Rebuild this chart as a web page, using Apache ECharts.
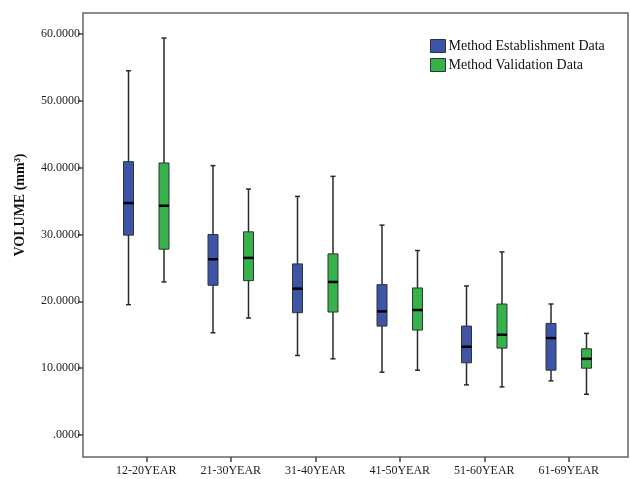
<!DOCTYPE html>
<html>
<head>
<meta charset="utf-8">
<script src="https://cdn.jsdelivr.net/npm/echarts@6/dist/echarts.min.js"></script>
<style>html,body{margin:0;padding:0;background:#fff;}#c{width:630px;height:479px;}</style>
</head>
<body>
<div id="c"></div>
<script>
const categories = ['12-20YEAR','21-30YEAR','31-40YEAR','41-50YEAR','51-60YEAR','61-69YEAR'];
const yTicks = [0, 10, 20, 30, 40, 50, 60];
// Method Establishment Data
const estMin = [19.5, 15.3, 11.9, 9.4, 7.5, 8.1];
const estQ1  = [29.9, 22.4, 18.3, 16.3, 10.8, 9.7];
const estMed = [34.7, 26.3, 21.9, 18.5, 13.2, 14.5];
const estQ3  = [40.9, 30.0, 25.6, 22.5, 16.3, 16.7];
const estMax = [54.5, 40.3, 35.7, 31.4, 22.3, 19.6];
// Method Validation Data
const valMin = [22.9, 17.5, 11.4, 9.7, 7.2, 6.1];
const valQ1  = [27.8, 23.1, 18.4, 15.7, 13.0, 10.0];
const valMed = [34.3, 26.5, 22.9, 18.7, 15.0, 11.4];
const valQ3  = [40.7, 30.4, 27.1, 22.0, 19.6, 12.9];
const valMax = [59.4, 36.8, 38.7, 27.6, 27.4, 15.2];

const BLUE = '#3c55a6';
const GREEN = '#36b24a';
const SERIF = '"Liberation Serif", "DejaVu Serif", serif';

function rows(mn, q1, md, q3, mx) {
  return categories.map((c, i) => [i, mn[i], q1[i], md[i], q3[i], mx[i]]);
}

function makeRender(offsetFrac, color) {
  return function (params, api) {
    const cat = api.value(0);
    const band = api.size([1, 0])[0];
    const cx = api.coord([cat, api.value(3)])[0] + offsetFrac * band;
    const yLow = api.coord([cat, api.value(1)])[1];
    const yQ1 = api.coord([cat, api.value(2)])[1];
    const yMed = api.coord([cat, api.value(3)])[1];
    const yQ3 = api.coord([cat, api.value(4)])[1];
    const yHigh = api.coord([cat, api.value(5)])[1];
    const bw = 10, cw = 5;
    const ws = { stroke: '#2a2a2a', lineWidth: 1.5 };
    return {
      type: 'group',
      children: [
        { type: 'line', shape: { x1: cx, y1: yHigh, x2: cx, y2: yLow }, style: ws },
        { type: 'line', shape: { x1: cx - cw / 2, y1: yHigh, x2: cx + cw / 2, y2: yHigh }, style: ws },
        { type: 'line', shape: { x1: cx - cw / 2, y1: yLow, x2: cx + cw / 2, y2: yLow }, style: ws },
        { type: 'rect', shape: { x: cx - bw / 2, y: yQ3, width: bw, height: yQ1 - yQ3 },
          style: { fill: color, stroke: '#333', lineWidth: 1 } },
        { type: 'line', shape: { x1: cx - bw / 2, y1: yMed, x2: cx + bw / 2, y2: yMed },
          style: { stroke: '#000', lineWidth: 2.5 } }
      ]
    };
  };
}

const chart = echarts.init(document.getElementById('c'), null, { renderer: 'canvas' });
chart.setOption({
  animation: false,
  backgroundColor: '#fff',
  textStyle: { fontFamily: SERIF },
  grid: [
    { left: 104, right: 19, top: 13, bottom: 22 },
    { left: 83, right: 2, top: 13, bottom: 22, show: true, borderColor: '#666', borderWidth: 1.5, backgroundColor: 'transparent' }
  ],
  legend: {
    orient: 'vertical', left: 425, top: 34,
    itemWidth: 15, itemHeight: 13, itemGap: 5, icon: 'rect',
    itemStyle: { borderColor: '#333', borderWidth: 1 },
    textStyle: { fontFamily: SERIF, fontSize: 14, color: '#111', padding: [0, 0, 0, -2] },
    data: ['Method Establishment Data', 'Method Validation Data']
  },
  xAxis: [
    { type: 'category', gridIndex: 0, data: categories, boundaryGap: true,
      axisLine: { show: false, onZero: false },
      axisTick: { show: true, alignWithLabel: true, interval: 0, length: 5, lineStyle: { color: '#444', width: 1.5 } },
      axisLabel: { interval: 0, margin: 8, fontFamily: SERIF, fontSize: 12, color: '#222' },
      splitLine: { show: false } },
    { type: 'value', gridIndex: 1, show: false }
  ],
  yAxis: [
    { type: 'value', gridIndex: 0, min: -3.29, max: 63.14, offset: 21,
      name: 'VOLUME (mm³)', nameLocation: 'middle', nameRotate: 90, nameGap: 56,
      nameTextStyle: { fontFamily: SERIF, fontSize: 14, fontWeight: 'bold', color: '#111', padding: [0, 0, 0, 60] },
      axisLine: { show: false },
      axisTick: { show: true, length: 5, customValues: yTicks, lineStyle: { color: '#444', width: 1.5 } },
      axisLabel: { customValues: yTicks, margin: 3, fontFamily: SERIF, fontSize: 12, color: '#222',
        formatter: v => (v === 0 ? '.0000' : v.toFixed(4)) },
      splitLine: { show: false } },
    { type: 'value', gridIndex: 1, show: false }
  ],
  series: [
    { name: 'Method Establishment Data', type: 'custom', xAxisIndex: 0, yAxisIndex: 0,
      itemStyle: { color: BLUE },
      encode: { x: 0, y: [1, 2, 3, 4, 5] },
      renderItem: makeRender(-0.21, BLUE),
      data: rows(estMin, estQ1, estMed, estQ3, estMax) },
    { name: 'Method Validation Data', type: 'custom', xAxisIndex: 0, yAxisIndex: 0,
      itemStyle: { color: GREEN },
      encode: { x: 0, y: [1, 2, 3, 4, 5] },
      renderItem: makeRender(0.21, GREEN),
      data: rows(valMin, valQ1, valMed, valQ3, valMax) }
  ]
});
</script>
</body>
</html>
